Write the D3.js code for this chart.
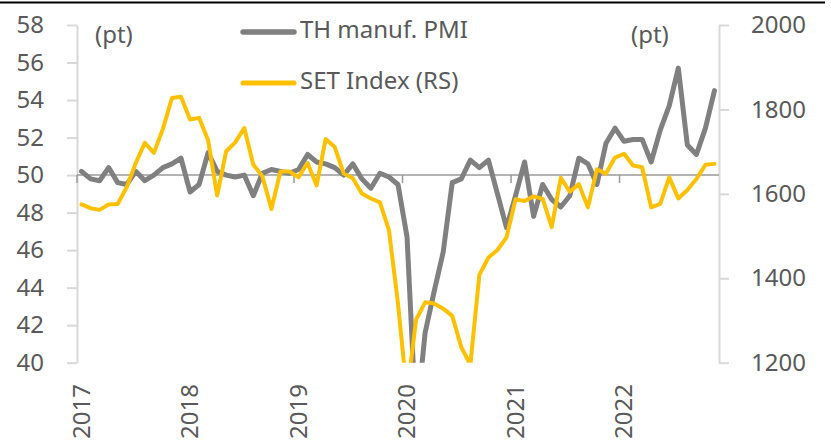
<!DOCTYPE html>
<html>
<head>
<meta charset="utf-8">
<script src="https://cdn.jsdelivr.net/npm/d3@7"></script>
<style>
  body { margin: 0; background: #fff; }
  text { font-family: "Noto Sans", sans-serif; fill: #595959; }
</style>
</head>
<body>
<div id="chart"></div>
<script>
// monthly categories on the x axis
var months = [
    "2017-01","2017-02","2017-03","2017-04","2017-05","2017-06","2017-07","2017-08","2017-09","2017-10","2017-11","2017-12",
    "2018-01","2018-02","2018-03","2018-04","2018-05","2018-06","2018-07","2018-08","2018-09","2018-10","2018-11","2018-12",
    "2019-01","2019-02","2019-03","2019-04","2019-05","2019-06","2019-07","2019-08","2019-09","2019-10","2019-11","2019-12",
    "2020-01","2020-02","2020-03","2020-04","2020-05","2020-06","2020-07","2020-08","2020-09","2020-10","2020-11","2020-12",
    "2021-01","2021-02","2021-03","2021-04","2021-05","2021-06","2021-07","2021-08","2021-09","2021-10","2021-11","2021-12",
    "2022-01","2022-02","2022-03","2022-04","2022-05","2022-06","2022-07","2022-08","2022-09","2022-10","2022-11"
];
var yearLabels = ["2017", "2018", "2019", "2020", "2021", "2022"];

// TH manuf. PMI (left scale)
var pmi = [
    50.2, 49.8, 49.7, 50.4, 49.6, 49.5, 50.2, 49.7, 50.0, 50.4, 50.6, 50.9,
    49.1, 49.5, 51.2, 50.2, 50.0, 49.9, 50.0, 48.9, 50.1, 50.3, 50.2, 50.1,
    50.3, 51.1, 50.7, 50.6, 50.4, 50.0, 50.6, 49.8, 49.3, 50.1, 49.9, 49.5,
    46.7, 36.8, 41.6, 43.8, 45.9, 49.6, 49.8, 50.8, 50.4, 50.8, 49.0, 47.2,
    48.9, 50.7, 47.8, 49.5, 48.7, 48.3, 48.9, 50.9, 50.6, 49.5, 51.7, 52.5,
    51.8, 51.9, 51.9, 50.7, 52.4, 53.7, 55.7, 51.6, 51.1, 52.5, 54.5
];

// SET Index (right scale)
var setIndex = [
    1575, 1566, 1562, 1575, 1576, 1616, 1673, 1721, 1697, 1754, 1827, 1830,
    1776, 1780, 1727, 1596, 1701, 1722, 1756, 1669, 1642, 1564, 1653, 1653,
    1639, 1673, 1620, 1730, 1711, 1648, 1637, 1601, 1589, 1580, 1514, 1340,
    1126, 1302, 1343, 1340, 1328, 1311, 1237, 1195, 1408, 1449, 1467, 1497,
    1587, 1583, 1594, 1588, 1521, 1638, 1605, 1623, 1568, 1658, 1648, 1686,
    1695, 1667, 1663, 1568, 1576, 1639, 1589, 1609, 1635, 1669, 1671
];

var leftTicks = [40, 42, 44, 46, 48, 50, 52, 54, 56, 58];
var rightTicks = [1200, 1400, 1600, 1800, 2000];

var w = 831, h = 448;
var margin = {top: 25, right: 112, bottom: 85.3, left: 77};

var svg = d3.select("#chart")
    .append("svg")
    .attr("width", w)
    .attr("height", h);

// thin black rule on top
svg.append("line")
    .attr("x1", 0).attr("x2", 825)
    .attr("y1", 2.5).attr("y2", 2.5)
    .attr("stroke", "#000")
    .attr("stroke-width", 2);

var xScale = d3.scaleBand()
    .domain(months)
    .range([margin.left, w - margin.right]);
var bw = xScale.bandwidth();

var yLeft = d3.scaleLinear()
    .domain([40, 58])
    .range([h - margin.bottom, margin.top]);

var yRight = d3.scaleLinear()
    .domain([1200, 2000])
    .range([h - margin.bottom, margin.top]);

/* left axis */
var leftAxis = svg.append("g")
    .attr("transform", "translate(" + margin.left + ",0)")
    .call(d3.axisLeft(yLeft).tickValues(leftTicks).tickFormat(d3.format("d"))
        .tickSize(10).tickSizeOuter(0).tickPadding(23));

/* right axis */
var rightAxis = svg.append("g")
    .attr("transform", "translate(" + (w - margin.right) + ",0)")
    .call(d3.axisRight(yRight).tickValues(rightTicks).tickFormat(d3.format("d"))
        .tickSize(10).tickSizeOuter(0).tickPadding(22));

[leftAxis, rightAxis].forEach(function (ax) {
    ax.select(".domain").attr("stroke", "#d9d9d9").attr("stroke-width", 2);
    ax.selectAll(".tick line").attr("stroke", "#d9d9d9").attr("stroke-width", 2);
    ax.selectAll(".tick text")
        .style("font-size", "24px")
        .style("font-family", "'Noto Sans', sans-serif")
        .attr("fill", "#595959");
});

/* category axis crossing at 50 */
var y50 = yLeft(50);
var xAxis = svg.append("g").attr("class", "x-axis");

xAxis.append("line")
    .attr("x1", margin.left).attr("x2", w - margin.right)
    .attr("y1", y50).attr("y2", y50)
    .attr("stroke", "#9a9a9a")
    .attr("stroke-width", 1.5);

var yearStarts = months.filter(function (m) { return m.slice(5) == "01"; });

xAxis.selectAll(".yt")
    .data(yearStarts)
    .enter().append("line")
    .attr("class", "yt")
    .attr("x1", function (d) { return xScale(d); })
    .attr("x2", function (d) { return xScale(d); })
    .attr("y1", y50).attr("y2", y50 + 8)
    .attr("stroke", "#9a9a9a")
    .attr("stroke-width", 1.5);

svg.selectAll(".year")
    .data(yearLabels)
    .enter().append("text")
    .attr("class", "year")
    .attr("transform", function (d, i) {
        return "translate(" + (xScale(yearStarts[i]) + bw / 2) + ",384) rotate(-90)";
    })
    .attr("text-anchor", "end")
    .attr("dy", "0.35em")
    .style("font-size", "24px")
    .text(function (d) { return d; });

/* lines */
svg.append("clipPath")
    .attr("id", "plotClip")
    .append("rect")
    .attr("x", 0).attr("y", 0)
    .attr("width", w).attr("height", h - margin.bottom);

var pmiLine = d3.line()
    .x(function (d, i) { return xScale(months[i]) + bw / 2; })
    .y(function (d) { return yLeft(d); });

var setLine = d3.line()
    .x(function (d, i) { return xScale(months[i]) + bw / 2; })
    .y(function (d) { return yRight(d); });

var lines = svg.append("g").attr("clip-path", "url(#plotClip)");

lines.append("path")
    .datum(pmi)
    .attr("d", pmiLine)
    .attr("fill", "none")
    .attr("stroke", "#808080")
    .attr("stroke-width", 5)
    .attr("stroke-linejoin", "round")
    .attr("stroke-linecap", "round");

lines.append("path")
    .datum(setIndex)
    .attr("d", setLine)
    .attr("fill", "none")
    .attr("stroke", "#FFC000")
    .attr("stroke-width", 4)
    .attr("stroke-linejoin", "round")
    .attr("stroke-linecap", "round");

/* unit labels */
svg.append("text").attr("x", 95).attr("y", 43).style("font-size", "24px").text("(pt)");
svg.append("text").attr("x", 631).attr("y", 43).style("font-size", "24px").text("(pt)");

/* legend */
var legend = [
    {name: "TH manuf. PMI", color: "#808080", width: 5.5, y: 32},
    {name: "SET Index (RS)", color: "#FFC000", width: 5, y: 83}
];

var lg = svg.selectAll(".legend")
    .data(legend)
    .enter().append("g")
    .attr("class", "legend")
    .attr("transform", function (d) { return "translate(0," + d.y + ")"; });

lg.append("line")
    .attr("x1", 243).attr("x2", 294)
    .attr("y1", 0).attr("y2", 0)
    .attr("stroke", function (d) { return d.color; })
    .attr("stroke-width", function (d) { return d.width; })
    .attr("stroke-linecap", "round");

lg.append("text")
    .attr("x", 300)
    .attr("y", 6)
    .style("font-size", "24px")
    .text(function (d) { return d.name; });
</script>
</body>
</html>
